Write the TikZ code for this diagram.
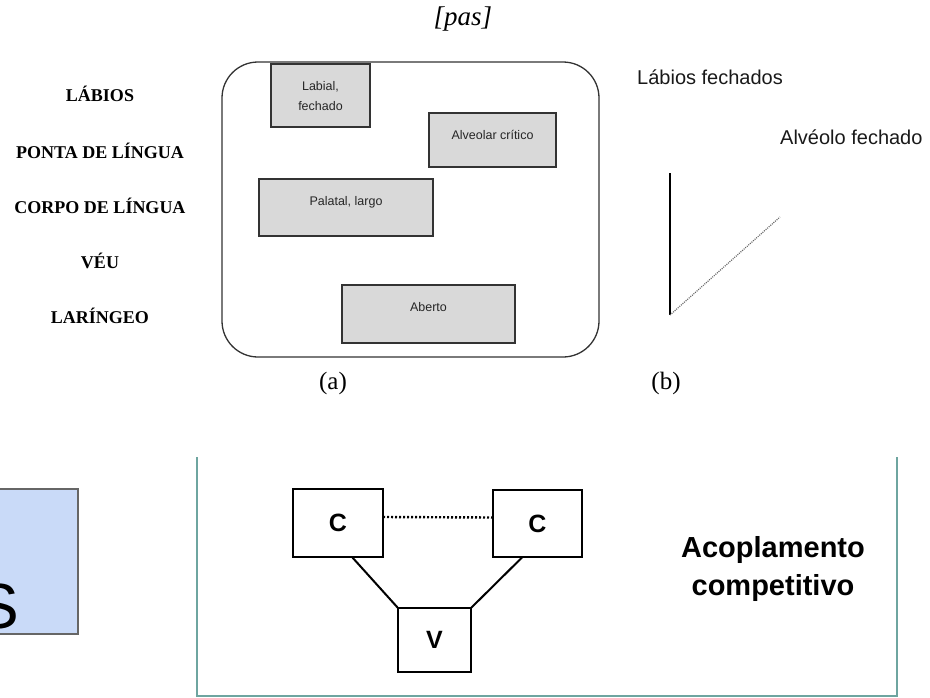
\documentclass[tikz,border=0pt]{standalone}
\usepackage{fontspec}
\setmainfont{Liberation Serif}
\newfontfamily\arialish{Liberation Sans}
\definecolor{boxgray}{HTML}{D9D9D9}
\definecolor{edgegray}{HTML}{333333}
\definecolor{paleblue}{HTML}{C9DAF8}
\definecolor{frameteal}{RGB}{110,165,160}

\begin{document}
\begin{tikzpicture}[x=1pt,y=-1pt,
  tier/.style={font=\fontsize{18}{20}\selectfont\bfseries, anchor=base, inner sep=0},
  gesture/.style={draw=edgegray, line width=1.5pt, fill=boxgray, inner sep=0, outer sep=0, anchor=north west},
  gesttext/.style={font=\arialish\fontsize{12.5}{20}\selectfont, text=black!85, align=center, anchor=north, inner sep=0},
  sidetext/.style={font=\arialish\fontsize{20}{24}\selectfont, text=black!90, anchor=base west, inner sep=0},
  caption/.style={font=\fontsize{25}{28}\selectfont, anchor=base, inner sep=0},
  seg/.style={draw=black, line width=2pt, inner sep=0, outer sep=0, anchor=north west,
              font=\arialish\bfseries\fontsize{25}{28}\selectfont},
  link/.style={black, line width=2pt}]
\useasboundingbox (0,0) rectangle (930,697);

% ---------- gestural score of [pas] ----------
\node[font=\itshape\fontsize{27}{30}\selectfont, anchor=base, inner sep=0] (title) at (463,25) {[pas]};

\node[tier] (t1) at (100,101) {LÁBIOS};
\node[tier] (t2) at (100,158) {PONTA DE LÍNGUA};
\node[tier] (t3) at (100,213) {CORPO DE LÍNGUA};
\node[tier] (t4) at (100,268) {VÉU};
\node[tier] (t5) at (100,323) {LARÍNGEO};

\node[draw=edgegray, line width=1.3pt, rounded corners=36pt, inner sep=0, outer sep=0,
      anchor=north west, minimum width=377, minimum height=295] (score) at (222,62) {};

\node[gesture, minimum width=99,  minimum height=63] (lab) at (271,64) {};
\node[gesttext] (labt) at ([yshift=-17pt]lab.north) {Labial,\\fechado};

\node[gesture, minimum width=127, minimum height=54] (alv) at (429,113) {};
\node[gesttext] (alvt) at ([yshift=-17pt]alv.north) {Alveolar crítico};

\node[gesture, minimum width=174, minimum height=57] (pal) at (259,179) {};
\node[gesttext] (palt) at ([yshift=-17pt]pal.north) {Palatal, largo};

\node[gesture, minimum width=173, minimum height=58] (abe) at (342,285) {};
\node[gesttext] (abet) at ([yshift=-17pt]abe.north) {Aberto};

\node[caption] (capa) at (333,389) {(a)};

% ---------- closure trajectories ----------
\node[sidetext] (lf) at (637,84) {Lábios fechados};
\node[sidetext] (af) at (780,144) {Alvéolo fechado};

\coordinate (vtop) at (670,173);
\coordinate (vbot) at (670,315);
\coordinate (dend) at (780,217);
\draw[black, line width=1.8pt] (vtop) -- (vbot);
\draw[black!60, line width=1.2pt, dash pattern=on 1pt off 1.1pt] (vbot) -- (dend);

\node[caption] (capb) at (666,389) {(b)};

% ---------- lower panel: blue tile ----------
\node[draw=black!60, line width=1.3pt, fill=paleblue, inner sep=0, outer sep=0, anchor=north west,
      minimum width=80, minimum height=145] (tile) at (-2,489) {};
\node[font=\arialish\fontsize{64}{70}\selectfont, anchor=base east, inner sep=0] (sletter) at (19,628) {S};

% ---------- lower panel: competitive coupling ----------
\draw[frameteal, line width=2pt] (197,457) -- (197,696) -- (897,696) -- (897,457);

\node[seg, minimum width=90, minimum height=68] (cl) at (293,489) {C};
\node[seg, minimum width=89, minimum height=67] (cr) at (493,490) {C};
\node[seg, minimum width=73, minimum height=64] (vv) at (398,608) {V};

\draw[black, line width=2.4pt, dash pattern=on 2pt off 2pt] ([yshift=6pt]cl.east) -- ([yshift=6pt]cr.west);
\draw[link] ([xshift=14pt]cl.south) -- (vv.north west);
\draw[link] (vv.north east) -- ([xshift=-15pt]cr.south);

\node[font=\arialish\bfseries\fontsize{29}{38}\selectfont, align=center, anchor=base, inner sep=0]
  (coup) at (773,595) {Acoplamento\\competitivo};
\end{tikzpicture}
\end{document}
